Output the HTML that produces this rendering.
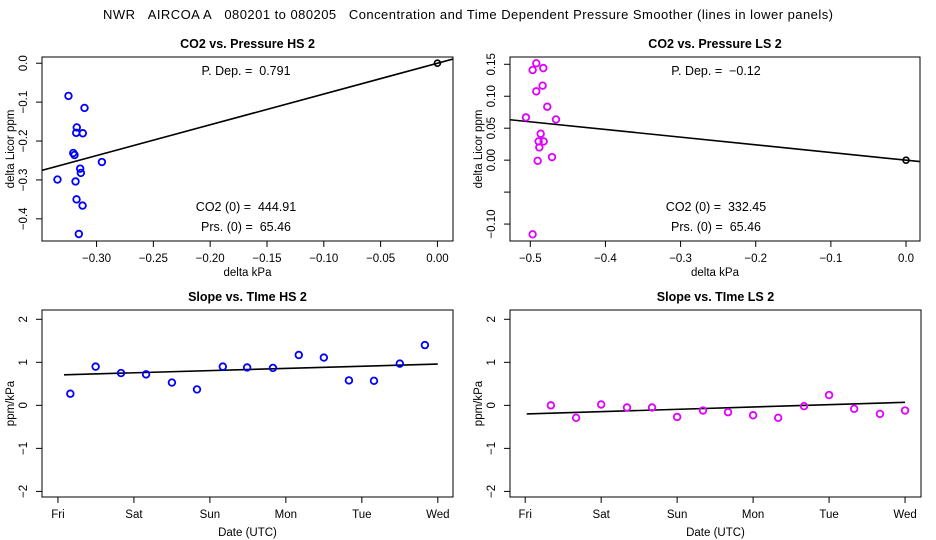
<!DOCTYPE html>
<html><head><meta charset="utf-8"><style>
body{margin:0;background:#fff;}
svg{display:block;font-family:"Liberation Sans",sans-serif;}
</style></head><body>
<svg id="c" width="936" height="540" viewBox="0 0 936 540">
<text x="468" y="19" font-size="13" text-anchor="middle" textLength="730" lengthAdjust="spacing">NWR&#160;&#160;&#160;AIRCOA A&#160;&#160;&#160;080201 to 080205&#160;&#160;&#160;Concentration and Time Dependent Pressure Smoother (lines in lower panels)</text>
</svg>
<script>
// ---- data ----
const hsPresX=[-0.3247,-0.3106,-0.3174,-0.3179,-0.3121,-0.3205,-0.3194,-0.2953,-0.3144,-0.3138,-0.3344,-0.3185,-0.3176,-0.3123,-0.3156];
const hsPresY=[-0.084,-0.115,-0.165,-0.179,-0.180,-0.231,-0.236,-0.254,-0.271,-0.282,-0.299,-0.304,-0.350,-0.366,-0.439];
const hsPDep=0.791;
const lsPresX=[-0.492,-0.4969,-0.4827,-0.4836,-0.492,-0.4774,-0.5058,-0.4658,-0.4862,-0.4889,-0.4822,-0.488,-0.4711,-0.4902,-0.4969];
const lsPresY=[0.1515,0.141,0.144,0.1165,0.1076,0.0836,0.0669,0.0637,0.0413,0.0293,0.0293,0.0199,0.0047,-0.001,-0.116];
const lsPDep=-0.12;
const hsTimeX=[0.163,0.496,0.83,1.16,1.5,1.83,2.17,2.49,2.83,3.17,3.5,3.83,4.16,4.5,4.83];
const hsSlope=[0.27,0.90,0.75,0.72,0.53,0.37,0.90,0.88,0.87,1.17,1.11,0.58,0.57,0.97,1.40];
const hsSmoothX=[0.08,5.0];
const hsSmoothY=[0.71,0.96];
const lsTimeX=[0.338,0.67,1.0,1.34,1.67,2.0,2.34,2.67,3.0,3.33,3.67,4.0,4.33,4.67,5.0];
const lsSlope=[0,-0.29,0.02,-0.05,-0.05,-0.27,-0.12,-0.16,-0.23,-0.29,-0.02,0.24,-0.08,-0.2,-0.12];
const lsSmoothX=[0.02,5.0];
const lsSmoothY=[-0.2,0.07];
const dayLabels=["Fri","Sat","Sun","Mon","Tue","Wed"];
const hsXTicks=[-0.30,-0.25,-0.20,-0.15,-0.10,-0.05,0.00];
const hsYTicks=[0.0,-0.1,-0.2,-0.3,-0.4];
const lsXTicks=[-0.5,-0.4,-0.3,-0.2,-0.1,0.0];
const lsYTicks=[0.15,0.10,0.05,0.00,-0.05,-0.10];
const slopeYTicks=[2,1,0,-1,-2];

const svg=document.getElementById('c');
const NS="http://www.w3.org/2000/svg";
const SP="\u00a0";
function mk(tag,a,parent){const e=document.createElementNS(NS,tag);for(const k in a)e.setAttribute(k,a[k]);(parent||svg).appendChild(e);return e;}
function fmt(v,d){return (v<0?"\u2212":"")+Math.abs(v).toFixed(d);}

function panel(o){
  const g=mk('g',{});
  
  
  const L=o.box[0],T=o.box[1],R=o.box[2],B=o.box[3];
  const sx=v=>L+(v-o.xr[0])/(o.xr[1]-o.xr[0])*(R-L);
  const sy=v=>B-(v-o.yr[0])/(o.yr[1]-o.yr[0])*(B-T);
  const t=mk('text',{x:(L+R)/2,y:T-9,'font-size':12.5,'font-weight':'bold','text-anchor':'middle'},g);t.textContent=o.title;
  
  const fr=mk('rect',{x:L,y:T,width:R-L,height:B-T,fill:'none',stroke:'#000','stroke-width':1},g);
  
  o.xt.forEach((v,i)=>{const x=sx(v);mk('line',{x1:x,x2:x,y1:B,y2:B+6,stroke:'#000'},g);
    const tx=mk('text',{x:x,y:B+21,'font-size':11.5,'text-anchor':'middle'},g);tx.textContent=o.xl[i];
    });
  o.yt.forEach((v,i)=>{const y=sy(v);mk('line',{x1:L-6,x2:L,y1:y,y2:y,stroke:'#000'},g);
    if(o.yl[i]!==""){const tx=mk('text',{x:0,y:0,'font-size':11.5,'text-anchor':'middle',transform:`translate(${L-15},${y}) rotate(-90)`},g);tx.textContent=o.yl[i];
    }});
  const xt=mk('text',{x:(L+R)/2,y:B+o.xtOff,'font-size':11.5,'text-anchor':'middle'},g);xt.textContent=o.xtitle;
  
  const yt=mk('text',{x:0,y:0,'font-size':11.5,'text-anchor':'middle',transform:`translate(${L-28},${(T+B)/2}) rotate(-90)`},g);yt.textContent=o.ytitle;
  
  const cid='clip'+o.name;
  const cp=mk('clipPath',{id:cid},g);mk('rect',{x:L,y:T,width:R-L,height:B-T},cp);
  const lineX=o.lineX,lineY=o.lineY;
  const ln=mk('line',{x1:sx(lineX[0]),y1:sy(lineY[0]),x2:sx(lineX[1]),y2:sy(lineY[1]),stroke:'#000','stroke-width':1.6,'clip-path':`url(#${cid})`},g);
  
  o.px.forEach((v,i)=>{const c=mk('circle',{cx:sx(v),cy:sy(o.py[i]),r:3.3,fill:'none',stroke:o.color,'stroke-width':1.8},g);
    });
  if(o.origin){const c=mk('circle',{cx:sx(0),cy:sy(0),r:3,fill:'none',stroke:'#000','stroke-width':1.6},g);
    }
  (o.notes||[]).forEach(n=>{const tx=mk('text',{x:n[0],y:n[1],'font-size':12.5,'text-anchor':'middle'},g);tx.textContent=n[2];
    });
}
const hsRange=[-0.348,0.0137];
panel({name:'co2-vs-pressure-hs',title:'CO2 vs. Pressure HS 2',box:[42,57,453,241],xr:hsRange,yr:[-0.457,0.016],
  xt:hsXTicks,xl:hsXTicks.map(v=>fmt(v,2)),yt:hsYTicks,yl:hsYTicks.map(v=>fmt(v,1)),xtitle:'delta kPa',ytitle:'delta Licor ppm',xtOff:35,
  px:hsPresX,py:hsPresY,color:'#0000ff',origin:true,lineX:hsRange,lineY:hsRange.map(v=>v*hsPDep),
  notes:[[246,75,'P. Dep. ='+SP+SP+hsPDep],[246,211,'CO2 (0) ='+SP+SP+'444.91'],[246,231,'Prs. (0) ='+SP+SP+'65.46']]});
const lsRange=[-0.527,0.0186];
panel({name:'co2-vs-pressure-ls',title:'CO2 vs. Pressure LS 2',box:[510,57,920,241],xr:lsRange,yr:[-0.1265,0.1614],
  xt:lsXTicks,xl:lsXTicks.map(v=>fmt(v,1)),yt:lsYTicks,yl:lsYTicks.map(v=>Math.abs(v+0.05)<1e-9?"":fmt(v,2)),xtitle:'delta kPa',ytitle:'delta Licor ppm',xtOff:35,
  px:lsPresX,py:lsPresY,color:'#e000ff',origin:true,lineX:lsRange,lineY:lsRange.map(v=>v*lsPDep),
  notes:[[716,75,'P. Dep. ='+SP+SP+fmt(lsPDep,2)],[716,211,'CO2 (0) ='+SP+SP+'332.45'],[716,231,'Prs. (0) ='+SP+SP+'65.46']]});
const days=[0,1,2,3,4,5];
panel({name:'slope-vs-time-hs',title:'Slope vs. TIme HS 2',box:[42,310,453,497],xr:[-0.21,5.2],yr:[-2.13,2.216],
  xt:days,xl:dayLabels,yt:slopeYTicks,yl:slopeYTicks.map(v=>(v<0?"\u2212":"")+Math.abs(v)),xtitle:'Date (UTC)',ytitle:'ppm/kPa',xtOff:39,
  px:hsTimeX,py:hsSlope,color:'#0000ff',origin:false,lineX:hsSmoothX,lineY:hsSmoothY});
panel({name:'slope-vs-time-ls',title:'Slope vs. TIme LS 2',box:[510,310,921,497],xr:[-0.2,5.21],yr:[-2.13,2.216],
  xt:days,xl:dayLabels,yt:slopeYTicks,yl:slopeYTicks.map(v=>(v<0?"\u2212":"")+Math.abs(v)),xtitle:'Date (UTC)',ytitle:'ppm/kPa',xtOff:39,
  px:lsTimeX,py:lsSlope,color:'#e000ff',origin:false,lineX:lsSmoothX,lineY:lsSmoothY});
</script>
</body></html>
